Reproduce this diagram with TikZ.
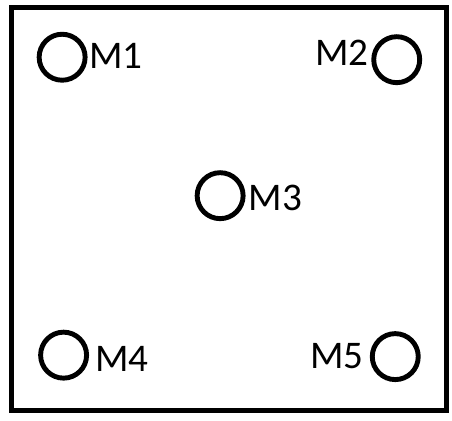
\documentclass[tikz,border=0pt]{standalone}
\usepackage{fontspec}
\setmainfont{Carlito}
\begin{document}
\begin{tikzpicture}[x=1pt,y=-1pt,
  frame/.style={draw=black,line width=5pt},
  marker/.style={circle,draw=black,line width=5pt,minimum size=47pt,inner sep=0pt},
  tag/.style={inner sep=0pt,font=\fontsize{40}{40}\selectfont}]
  \useasboundingbox (0,0) rectangle (462,430);
  % outer frame
  \draw[frame] (11.5,8) rectangle (456,420);
  % markers
  \node[marker] (c1) at (63.5,58.5) {};
  \node[marker] (c2) at (405.5,61) {};
  \node[marker] (c3) at (225,200) {};
  \node[marker] (c4) at (65,363) {};
  \node[marker] (c5) at (404,364.5) {};
  % labels
  \node[tag,anchor=base west] (l1) at (91,70) {M1};
  \node[tag,anchor=base east] (l2) at (377,67) {M2};
  \node[tag,anchor=base west] (l3) at (254,215) {M3};
  \node[tag,anchor=base west] (l4) at (97,380) {M4};
  \node[tag,anchor=base east] (l5) at (372,377) {M5};
\end{tikzpicture}
\end{document}
